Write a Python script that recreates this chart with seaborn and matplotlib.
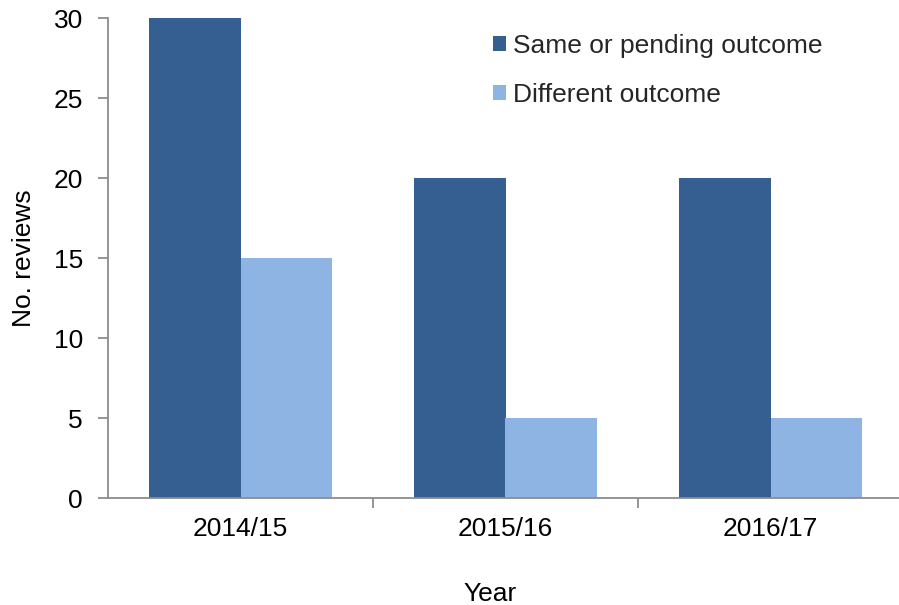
import matplotlib
matplotlib.use("Agg")
import matplotlib.pyplot as plt
import seaborn as sns
import pandas as pd
from matplotlib.patches import Patch

years = ["2014/15", "2015/16", "2016/17"]
same_or_pending = [30, 20, 20]
different = [15, 5, 5]
series_names = ["Same or pending outcome", "Different outcome"]
colors = ["#355F91", "#8EB4E3"]

df = pd.DataFrame({
    "Year": years * 2,
    "Reviews": same_or_pending + different,
    "Outcome": [series_names[0]] * 3 + [series_names[1]] * 3,
})

sns.set_theme(style="white")
plt.rcParams["font.family"] = ["Liberation Sans", "DejaVu Sans"]

fig = plt.figure(figsize=(8.99, 6.05), dpi=100)
ax = fig.add_axes([108 / 899, 1 - 498 / 605, 795 / 899, 480 / 605])

sns.barplot(data=df, x="Year", y="Reviews", hue="Outcome",
            palette=colors, width=0.69, saturation=1, ax=ax,
            legend=False, edgecolor="none", linewidth=0)

ax.set_xlim(-0.5, 2.5)
ax.set_ylim(0, 30)
ax.set_yticks(range(0, 31, 5))
ax.set_xticks([0, 1, 2])
ax.set_xticklabels(years)

axis_color = "#8C8C8C"
for side in ["top", "right"]:
    ax.spines[side].set_visible(False)
for side in ["left", "bottom"]:
    ax.spines[side].set_color(axis_color)
    ax.spines[side].set_linewidth(1.3)

ax.tick_params(axis="y", which="major", direction="out", length=7,
               width=1.3, color=axis_color, labelsize=19, pad=11,
               left=True, labelcolor="black")
ax.tick_params(axis="x", which="major", length=0, labelsize=19, pad=14,
               labelcolor="black")
# group boundary ticks on the category axis
ax.set_xticks([0.5, 1.5], minor=True)
ax.tick_params(axis="x", which="minor", direction="out", length=7,
               width=1.3, color=axis_color, bottom=True)

ax.set_ylabel("No. reviews", fontsize=19, color="black")
ax.yaxis.set_label_coords(-0.09, 0.5)
ax.set_xlabel("Year", fontsize=19, color="black")
ax.xaxis.set_label_coords((490 - 108) / 795, -0.175)

handles = [Patch(facecolor=c, edgecolor="none") for c in colors]
leg = ax.legend(handles, series_names, loc="upper left",
                bbox_to_anchor=((477 - 108) / 795, 1.0), frameon=False,
                fontsize=19, handlelength=0.5, handleheight=0.5,
                handletextpad=0.25, labelspacing=0.95, borderpad=0.1)

fig.savefig("out.png", dpi=100)
